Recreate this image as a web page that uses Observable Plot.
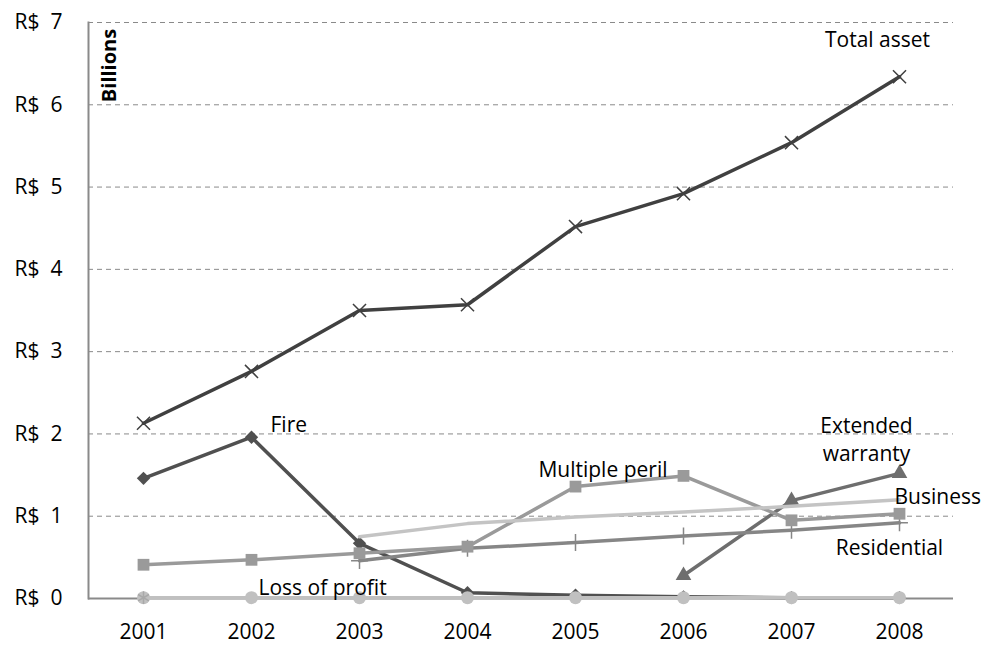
<!DOCTYPE html>
<html><head><meta charset="utf-8">
<script src="https://cdn.jsdelivr.net/npm/d3@7"></script>
<script src="https://cdn.jsdelivr.net/npm/@observablehq/plot@0.6"></script>
<style>body{margin:0;background:#fff;} svg{font-family:"Open Sans",sans-serif;}</style>
</head><body><div id="chart"></div>
<script>
const years = [2001, 2002, 2003, 2004, 2005, 2006, 2007, 2008];
const totalAsset       = [2.13, 2.76, 3.50, 3.57, 4.52, 4.92, 5.54, 6.34];
const fire             = [1.46, 1.96, 0.67, 0.07, 0.04, 0.02, 0.01, 0.01];
const multiplePeril    = [0.41, 0.47, 0.55, 0.63, 1.36, 1.49, 0.95, 1.03];
const business         = [null, null, 0.75, 0.91, 0.99, 1.05, 1.12, 1.20];
const residential      = [null, null, 0.46, 0.61, 0.68, 0.76, 0.83, 0.92];
const extendedWarranty = [null, null, null, null, null, 0.28, 1.19, 1.52];
const lossOfProfit     = [0.01, 0.01, 0.01, 0.01, 0.01, 0.01, 0.01, 0.01];
const yTicks = [0, 1, 2, 3, 4, 5, 6, 7];
const seriesNames = ["Total asset", "Fire", "Extended warranty", "Residential", "Multiple peril", "Business", "Loss of profit"];

const seriesValues = {
  "Total asset": totalAsset, "Fire": fire, "Extended warranty": extendedWarranty,
  "Residential": residential, "Multiple peril": multiplePeril, "Business": business,
  "Loss of profit": lossOfProfit
};
const styles = {
  "Total asset":       {color: "#404040", symbol: "times", r: 6, filled: false},
  "Fire":              {color: "#505050", symbol: "diamond2", r: 6, filled: true},
  "Extended warranty": {color: "#6e6e6e", symbol: "triangle2", r: 7.5, filled: true},
  "Residential":       {color: "#868686", symbol: "plus", r: 5.5, filled: false},
  "Multiple peril":    {color: "#9a9a9a", symbol: "square2", r: 7.5, filled: true},
  "Business":          {color: "#c4c4c4", symbol: null, r: 0, filled: true},
  "Loss of profit":    {color: "#c0c0c0", symbol: "circle", r: 6.5, filled: true}
};

const rows = (name) => years.map((y, i) => ({year: y, value: seriesValues[name][i]})).filter(d => d.value != null);

const FS = 21;
const marks = [
  Plot.gridY(yTicks.filter(v => v > 0), {stroke: "#8a8a8a", strokeOpacity: 1, strokeDasharray: "5,4", strokeWidth: 1}),
  Plot.ruleY([0], {stroke: "#8a8a8a", strokeWidth: 2}),
  Plot.frame({anchor: "left", stroke: "#8a8a8a", strokeWidth: 2}),
  Plot.axisY({ticks: yTicks, tickFormat: d => "R$\u00a0\u00a0" + d, tickSize: 0, tickPadding: 26, fontSize: FS, fill: "#000", label: null}),
  Plot.axisX({tickFormat: d => String(d), tickSize: 0, tickPadding: 26, fontSize: FS, fill: "#000", label: null})
];
for (const name of seriesNames) {
  const s = styles[name];
  marks.push(Plot.line(rows(name), {x: "year", y: "value", stroke: s.color, strokeWidth: 3.5}));
  if (s.symbol) {
    marks.push(Plot.dot(rows(name), {
      x: "year", y: "value", symbol: s.symbol, r: s.r,
      fill: s.filled ? s.color : "none", stroke: s.color, strokeWidth: s.filled ? 0 : 1.5
    }));
  }
}
// star marker at 2001 on the zero line
marks.push(Plot.dot([{year: years[0], value: lossOfProfit[0]}], {x: "year", y: "value", symbol: "asterisk", r: 6, stroke: "#a8a8a8", strokeWidth: 1.5}));

// series labels (data coordinates)
const lab = {fontSize: FS, fill: "#000", textAnchor: "start"};
marks.push(
  Plot.text([{year: 2008, value: 6.78, t: "Total asset"}], {x: "year", y: "value", text: "t", ...lab, textAnchor: "middle", dx: -22}),
  Plot.text([{year: 2002, value: 2.11, t: "Fire"}], {x: "year", y: "value", text: "t", ...lab, dx: 19}),
  Plot.text([{year: 2006, value: 1.56, t: "Multiple peril"}], {x: "year", y: "value", text: "t", ...lab, textAnchor: "end", dx: -16}),
  Plot.text([{year: 2008, value: 1.95, t: "Extended\nwarranty"}], {x: "year", y: "value", text: "t", ...lab, textAnchor: "middle", dx: -33, lineHeight: 1.35}),
  Plot.text([{year: 2008, value: 1.23, t: "Business"}], {x: "year", y: "value", text: "t", ...lab, dx: -5}),
  Plot.text([{year: 2008, value: 0.61, t: "Residential"}], {x: "year", y: "value", text: "t", ...lab, textAnchor: "middle", dx: -10}),
  Plot.text([{year: 2002, value: 0.12, t: "Loss of profit"}], {x: "year", y: "value", text: "t", ...lab, dx: 7}),
  Plot.text(["Billions"], {frameAnchor: "top-left", rotate: -90, dx: 13, dy: 43, textAnchor: "middle", fontSize: 20, fontWeight: "bold", fill: "#000", letterSpacing: 1})
);

const chart = Plot.plot({
  width: 983, height: 653,
  marginLeft: 88, marginRight: 30, marginTop: 22, marginBottom: 55,
  style: {fontFamily: "'Open Sans', sans-serif", background: "#fff"},
  x: {type: "point", domain: years, padding: 0.5, label: null},
  y: {domain: [0, 7], label: null},
  marks
});
document.getElementById("chart").appendChild(chart);
</script>
</body></html>
